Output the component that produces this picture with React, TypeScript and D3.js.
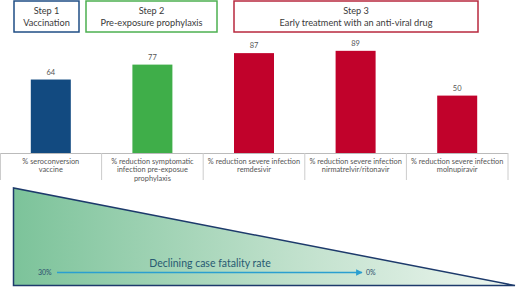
import React from "react";
import * as d3 from "d3";

const categories = ["vaccine", "prophylaxis", "remdesivir", "nirmatrelvir", "molnupiravir"];
const values = [64, 77, 87, 89, 50];
const labelLines = [
  ["% seroconversion", "vaccine"],
  ["% reduction symptomatic", "infection pre-exposue", "prophylaxis"],
  ["% reduction severe infection", "remdesivir"],
  ["% reduction severe infection", "nirmatrelvir/ritonavir"],
  ["% reduction severe infection", "molnupiravir"],
];
const barColors = ["#124a80", "#3fae49", "#c1022b", "#c1022b", "#c1022b"];
const steps = [
  { lines: ["Step 1", "Vaccination"], color: "#1f4e85", x0: 14, x1: 79 },
  { lines: ["Step 2", "Pre-exposure prophylaxis"], color: "#4cb050", x0: 86, x1: 217 },
  { lines: ["Step 3", "Early treatment with an anti-viral drug"], color: "#b8283e", x0: 234, x1: 478 },
];
const fatalityStart = "30%";
const fatalityEnd = "0%";
const fatalityTitle = "Declining case fatality rate";

const W = 520;
const H = 288;
const font = "Lato, 'Open Sans', sans-serif";

export default function App() {
  const x = d3.scaleBand<string>().domain(categories).range([0, 508]).padding(0);
  const y = d3.scaleLinear().domain([0, 100]).range([153, 38.2]);
  const bw = 40;

  return (
    <svg width={W} height={H} style={{ position: "absolute", left: 0, top: 0, background: "#fff" }}>
      <defs>
        <linearGradient id="tri" x1="0" x2="1" y1="0" y2="0">
          <stop offset="0" stopColor="#7cc39a" />
          <stop offset="0.55" stopColor="#bfe0cb" />
          <stop offset="1" stopColor="#eef6f0" />
        </linearGradient>
        <marker id="arr" viewBox="0 0 10 10" refX="9" refY="5" markerWidth="5" markerHeight="5" orient="auto">
          <path d="M0,0 L10,5 L0,10 z" fill="#2a9fd0" />
        </marker>
      </defs>

      {steps.map((s, i) => (
        <g key={i}>
          <rect x={s.x0} y={1} width={s.x1 - s.x0} height={31} fill="#fff" stroke={s.color} strokeWidth={1.5} />
          {s.lines.map((t, j) => (
            <text key={j} x={(s.x0 + s.x1) / 2} y={14 + j * 12} textAnchor="middle" fontFamily={font} fontWeight={400} fontSize={9.2} fill="#3a3a3a">
              {t}
            </text>
          ))}
        </g>
      ))}

      {categories.map((c, i) => {
        const cx = (x(c) as number) + x.bandwidth() / 2;
        return (
          <g key={c}>
            <rect x={cx - bw / 2} y={y(values[i])} width={bw} height={y(0) - y(values[i])} fill={barColors[i]} />
            <text x={cx} y={y(values[i]) - 5} textAnchor="middle" fontFamily={font} fontSize={7.5} fill="#555">
              {values[i]}
            </text>
            {labelLines[i].map((t, j) => (
              <text key={j} x={cx} y={163.5 + j * 8.8} textAnchor="middle" fontFamily={font} fontSize={7.4} fill="#555">
                {t}
              </text>
            ))}
          </g>
        );
      })}

      <line x1={0} x2={508} y1={153.5} y2={153.5} stroke="#bbb" strokeWidth={1} />
      {[0, ...categories.map((c) => (x(c) as number) + x.bandwidth())].map((bx, i) => (
        <line key={i} x1={Math.max(0.5, bx)} x2={Math.max(0.5, bx)} y1={153} y2={180} stroke="#ccc" strokeWidth={1} />
      ))}

      <path d="M13.5,188 L13.5,285.5 L515,285.5 Z" fill="url(#tri)" stroke="#1d3a6b" strokeWidth={1.5} strokeLinejoin="miter" />
      <line x1={57} y1={272.5} x2={362} y2={272.5} stroke="#2a9fd0" strokeWidth={1.3} markerEnd="url(#arr)" />
      <text x={38} y={275} fontFamily={font} fontSize={7} fill="#2b4f6e">{fatalityStart}</text>
      <text x={366} y={275} fontFamily={font} fontSize={7} fill="#2b4f6e">{fatalityEnd}</text>
      <text x={210} y={267} textAnchor="middle" fontFamily={font} fontSize={10.5} fill="#285a72">{fatalityTitle}</text>
    </svg>
  );
}
